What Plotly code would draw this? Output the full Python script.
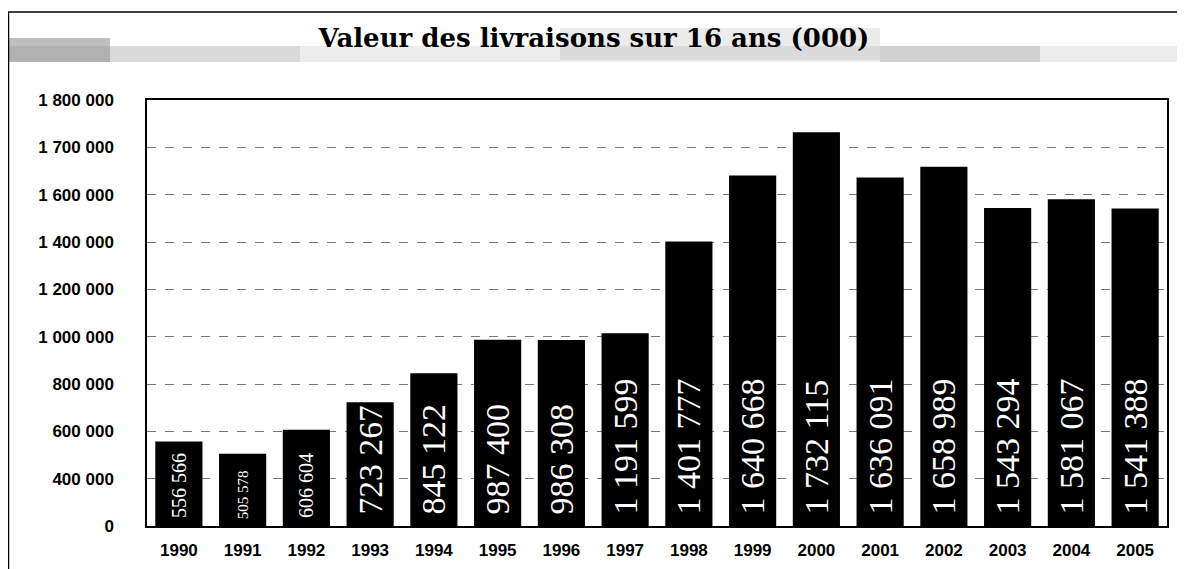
import numpy as np
import plotly.graph_objects as go

years = ["1990", "1991", "1992", "1993", "1994", "1995", "1996", "1997",
         "1998", "1999", "2000", "2001", "2002", "2003", "2004", "2005"]
# values printed inside the bars
label_values = [556566, 505578, 606604, 723267, 845122, 987400, 986308, 1191599,
                1401777, 1640668, 1732115, 1636091, 1658989, 1543294, 1581067, 1541388]
# bar heights as read against the (uneven) value axis of the picture
bar_values = [556566, 505578, 606604, 723267, 845122, 987400, 986308, 1014000,
              1401777, 1640668, 1732115, 1636091, 1658989, 1543294, 1581067, 1541388]
# value-axis tick labels (equally spaced gridlines in the picture)
tick_values = [0, 400000, 600000, 800000, 1000000, 1200000, 1400000, 1600000, 1700000, 1800000]

title_text = "Valeur des livraisons sur 16 ans (000)"


def fmt(v):
    return f"{v:,}".replace(",", " ")


tick_pos = np.arange(len(tick_values))
bar_pos = np.interp(bar_values, tick_values, tick_pos)
label_sizes = [20, 15, 20] + [34] * (len(years) - 3)

# the page adds an 8px body margin, so the figure is laid out 8px up/left
OFF = 8
W, H = 1185, 569
L, R, T, B = 147 - OFF, 26, 100 - OFF, 51
pw, ph = W - L - R, H - T - B


def px(x):
    return (x - OFF - L) / pw


def py(y):
    return (H - B - (y - OFF)) / ph


fig = go.Figure(go.Bar(
    x=years, y=bar_pos,
    marker=dict(color="black", line=dict(width=0)),
    text=["\u00a0" + fmt(v) for v in label_values],
    textposition="inside", insidetextanchor="start", textangle=-90,
    textfont=dict(color="white", family="Liberation Serif", size=label_sizes),
    cliponaxis=False,
))

shapes = [
    # banner texture (approximation)
    dict(type="rect", xref="paper", yref="paper", x0=px(9), x1=px(1179), y0=py(62), y1=py(46),
         fillcolor="rgba(0,0,0,0.07)", line=dict(width=0), layer="below"),
    dict(type="rect", xref="paper", yref="paper", x0=px(9), x1=px(110), y0=py(62), y1=py(38),
         fillcolor="rgba(0,0,0,0.25)", line=dict(width=0), layer="below"),
    dict(type="rect", xref="paper", yref="paper", x0=px(110), x1=px(300), y0=py(62), y1=py(46),
         fillcolor="rgba(0,0,0,0.08)", line=dict(width=0), layer="below"),
    dict(type="rect", xref="paper", yref="paper", x0=px(560), x1=px(880), y0=py(60), y1=py(28),
         fillcolor="rgba(0,0,0,0.08)", line=dict(width=0), layer="below"),
    dict(type="rect", xref="paper", yref="paper", x0=px(880), x1=px(1040), y0=py(62), y1=py(46),
         fillcolor="rgba(0,0,0,0.12)", line=dict(width=0), layer="below"),
    # outer frame
    dict(type="path", xref="paper", yref="paper",
         path=f"M {px(8.5)} {py(570)} L {px(8.5)} {py(12)} L {px(1180)} {py(12)} L {px(1180)} {py(570)}",
         line=dict(color="black", width=1.5)),
]

fig.update_layout(
    width=W, height=H,
    margin=dict(l=L, r=R, t=T, b=B, pad=0),
    paper_bgcolor="white", plot_bgcolor="white",
    bargap=0.26, showlegend=False,
    shapes=shapes,
    title=dict(text=title_text, x=(594 - OFF) / W, xanchor="center",
               y=1 - (38 - OFF) / H, yanchor="middle",
               xref="container", yref="container",
               font=dict(family="DejaVu Serif", size=26, color="black", weight="bold")),
    xaxis=dict(
        type="category", showgrid=False, ticks="", ticklabelstandoff=8,
        tickfont=dict(family="Liberation Sans", size=17, color="black", weight="bold"),
        showline=True, linecolor="black", linewidth=1.5, mirror=True,
    ),
    yaxis=dict(
        range=[0, len(tick_values) - 1], tickvals=list(tick_pos),
        ticktext=[fmt(v) for v in tick_values], ticks="", ticklabelstandoff=28,
        tickfont=dict(family="Liberation Sans", size=17, color="black", weight="bold"),
        showgrid=True, gridcolor="#777777", gridwidth=1, griddash="dash",
        zeroline=False,
        showline=True, linecolor="black", linewidth=1.5, mirror=True,
    ),
)

fig.write_html("out.html")
